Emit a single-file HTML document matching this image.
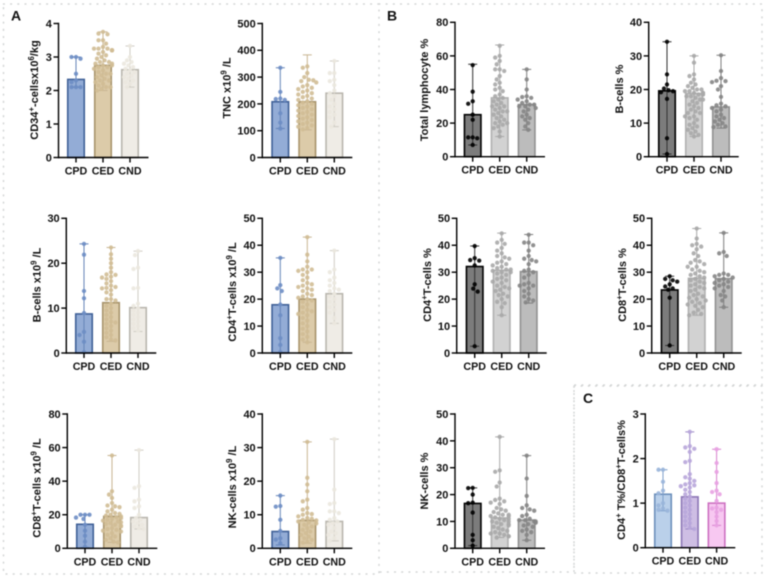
<!DOCTYPE html>
<html lang="en">
<head>
<meta charset="utf-8">
<title>Cell subset bar charts</title>
<style>
  html, body { margin: 0; padding: 0; background: #ffffff; }
  body { width: 767px; height: 579px; overflow: hidden; }
  svg { display: block; filter: blur(0.4px); }
  text { font-family: "Liberation Sans", Arial, sans-serif; font-weight: bold; fill: #111111; }
</style>
</head>
<body>
<svg id="figure" width="767" height="579" viewBox="0 0 767 579" xmlns="http://www.w3.org/2000/svg">
  <g fill="none" stroke="#d3d5d5" stroke-width="1.5" stroke-dasharray="0.8 6.4" stroke-linecap="round">
    <path d="M3.5 4H379V574H3.5Z"/>
    <path d="M379 4H762V385H574V572H379"/>
    <path d="M574 386H762V573H574Z"/>
  </g>
  <text x="11" y="20.5" font-size="14">A</text>
  <text x="387" y="20.5" font-size="14">B</text>
  <text x="583" y="403" font-size="14">C</text>
  <g id="charts"></g>
</svg>
<script>
const categories = ['CPD', 'CED', 'CND'];

const cd34Ticks = [0, 1, 2, 3, 4];
const cd34Means = [2.33, 2.75, 2.62];
const cd34Lows = [2.1, 2.0, 2.1];
const cd34Highs = [3.0, 3.75, 3.33];
const cd34Cpd = [3.0, 3.0, 2.95, 2.5, 2.3, 2.25, 2.1, 2.1, 2.1];
const cd34Ced = [3.75, 3.7, 3.68, 3.5, 3.5, 3.4, 3.3, 3.25, 3.25, 3.25, 3.2, 3.2, 3.2, 3.2, 3.15, 3.1, 3.05, 3.0, 2.95, 2.9, 2.85, 2.85, 2.8, 2.8, 2.75, 2.75, 2.7, 2.7, 2.65, 2.6, 2.55, 2.5, 2.5, 2.45, 2.4, 2.35, 2.3, 2.3, 2.25, 2.2, 2.15, 2.1, 2.1, 2.05, 2.0];
const cd34Cnd = [3.33, 3.0, 2.9, 2.85, 2.8, 2.75, 2.7, 2.65, 2.6, 2.55, 2.5, 2.45, 2.4, 2.35, 2.3, 2.25, 2.2, 2.1];

const tncTicks = [0, 100, 200, 300, 400, 500];
const tncMeans = [208, 208, 240];
const tncLows = [108, 103, 115];
const tncHighs = [335, 383, 360];
const tncCpd = [335, 245, 220, 218, 215, 165, 130, 108];
const tncCed = [340, 335, 315, 300, 290, 288, 285, 280, 270, 265, 260, 255, 250, 245, 240, 235, 230, 225, 220, 215, 210, 205, 200, 195, 190, 185, 180, 175, 170, 165, 160, 155, 150, 145, 140, 135, 130, 125, 120, 115, 110, 105];
const tncCnd = [360, 315, 315, 290, 285, 270, 250, 240, 230, 215, 200, 190, 180, 170, 160, 150, 130, 115];

const lymphTicks = [0, 20, 40, 60, 80];
const lymphMeans = [25, 35, 31];
const lymphLows = [7, 12, 16];
const lymphHighs = [55, 66.5, 52];
const lymphCpd = [54.5, 38.7, 33, 31.5, 25, 22, 11.5, 11.5, 11, 7];
const lymphCed = [66, 60, 59, 57, 55, 52, 52, 51, 48, 46, 44, 43, 41, 40, 39, 37, 36, 35, 34, 33, 32, 31, 30, 30, 29, 28, 27, 27, 26, 25, 24, 23, 22, 21, 20, 20, 19, 18, 17, 15, 12];
const lymphCnd = [52, 46, 40, 36, 35.5, 35, 34, 33, 32, 31, 31, 30, 30, 29, 28, 27, 25, 24, 23, 22, 20, 18, 16];

const bPctTicks = [0, 10, 20, 30, 40];
const bPctMeans = [19.6, 18.8, 14.8];
const bPctLows = [0.8, 6, 8.5];
const bPctHighs = [34.2, 30, 30.2];
const bPctCpd = [34.2, 24.5, 21.5, 20.3, 19.8, 19.5, 19.2, 17.2, 5.5, 0.8];
const bPctCed = [30, 28, 24.5, 24, 23, 22, 21.5, 21, 20.5, 20, 20, 19.5, 19.5, 19, 19, 19, 18.5, 18.5, 18.5, 18, 18, 17.5, 17, 17, 16.5, 16, 15.5, 15, 14.5, 14, 13.5, 13, 13, 12, 12, 11.5, 11, 10, 9.5, 9, 8.5, 8, 7.5, 7, 6.5, 6];
const bPctCnd = [30.2, 25.5, 23.4, 22.6, 22.5, 22.2, 21, 20, 17.8, 15.8, 15.3, 15, 14.5, 14, 13.5, 12.5, 12, 11.5, 11, 10.5, 10, 9.5, 9, 8.8];

const bAbsTicks = [0, 10, 20, 30];
const bAbsMeans = [8.7, 11.2, 10.1];
const bAbsLows = [0, 2.6, 4.8];
const bAbsHighs = [24.3, 23.5, 22.7];
const bAbsCpd = [24.3, 21.9, 13.8, 12.2, 8.9, 4.7, 4, 2.5, 0.2];
const bAbsCed = [23.5, 22, 21, 20, 19, 18, 17.5, 17.4, 17, 16.8, 16.5, 16, 15.5, 15, 14.7, 14.5, 14.4, 14, 13.5, 13, 12, 12, 11.7, 11, 10.5, 10, 9.5, 9, 8.5, 8, 7.5, 7, 6.8, 6.5, 6, 5.5, 5, 4.5, 4, 3.5, 3, 2.8];
const bAbsCnd = [22.7, 21.8, 19, 18.7, 14.5, 14.4, 11, 10.5, 10, 9.5, 9, 8.5, 8, 7.5, 7, 6.5, 6, 5.5, 5];

const cd4AbsTicks = [0, 10, 20, 30, 40, 50];
const cd4AbsMeans = [17.9, 20, 22];
const cd4AbsLows = [0, 4, 11];
const cd4AbsHighs = [35.3, 43, 38];
const cd4AbsCpd = [35.3, 25.2, 24, 23, 18, 14, 5.5, 3, 0.3];
const cd4AbsCed = [43, 36.5, 34, 32, 31, 31, 30.5, 30, 29, 28, 27, 26, 25.5, 25, 24.5, 24, 23.5, 23, 22, 21.5, 21, 20.5, 20, 19.5, 19, 18, 17, 16, 15.5, 15, 14.5, 14, 13, 12, 11, 10, 9, 8, 7, 6, 5, 4];
const cd4AbsCnd = [38, 31, 30, 28, 27, 26, 25, 24, 23.5, 23, 22, 21, 20, 19, 18, 17, 16, 15, 13, 11];

const cd4PctTicks = [0, 10, 20, 30, 40, 50];
const cd4PctMeans = [32.1, 30.7, 30.2];
const cd4PctLows = [2.5, 14, 18.5];
const cd4PctHighs = [39.7, 44.5, 44];
const cd4PctCpd = [39.7, 35.2, 34.5, 34.3, 32.5, 25.5, 23.9, 22.8, 2.5];
const cd4PctCed = [44.4, 42, 41, 40.5, 39, 38, 37, 36, 35.5, 35, 34, 33.5, 33, 32.5, 32, 31.5, 31, 31, 30.5, 30, 30, 29.5, 29, 28, 27.5, 27, 26.5, 26, 25, 24.5, 24, 23.5, 23, 22, 21.5, 21, 20, 19, 18.5, 17, 14];
const cd4PctCnd = [43.9, 41, 41, 40, 38, 36, 35, 34.5, 34, 33, 31, 30.5, 30, 29, 28, 26, 25.5, 25, 25, 24, 23, 22, 21, 20, 19.5, 18.8];

const cd8PctTicks = [0, 10, 20, 30, 40, 50];
const cd8PctMeans = [23.4, 27.7, 27.6];
const cd8PctLows = [2.8, 14, 17];
const cd8PctHighs = [28.5, 46.2, 44.6];
const cd8PctCpd = [28.5, 27.5, 27, 26.5, 25.5, 24.7, 24, 23.5, 20.5, 2.8];
const cd8PctCed = [46.2, 42.5, 40.5, 40, 39.5, 38.5, 37, 36, 34.5, 34, 33.5, 33, 32, 32, 31, 30.5, 30, 29.5, 29, 28.5, 28, 27.5, 27, 26.5, 26, 25.5, 25, 24.5, 24, 23.5, 23, 22, 21.5, 21, 20.5, 20, 19.5, 19, 18.5, 18, 17.5, 17, 16, 15, 14.5, 14];
const cd8PctCnd = [44.6, 37.5, 37, 36, 29.5, 29, 29, 28.5, 28, 27.5, 27, 26.5, 26, 25.5, 25, 24.5, 24, 23, 21.5, 21, 19.5, 17];

const cd8AbsTicks = [0, 20, 40, 60, 80];
const cd8AbsMeans = [14.3, 19, 18.3];
const cd8AbsLows = [0.5, 3.5, 11.5];
const cd8AbsHighs = [20, 55.3, 58.5];
const cd8AbsCpd = [20, 20, 20, 18.3, 17.5, 14, 10.5, 7.5, 4, 1];
const cd8AbsCed = [55.3, 34, 32, 30, 27, 25.5, 25, 24.5, 23, 22, 21, 20.5, 20, 19.5, 19, 18.5, 18, 17.5, 17, 16.5, 16, 15.5, 15, 14.5, 14, 13.5, 13, 12, 11.5, 11, 10.5, 10, 9, 8, 7, 6, 5, 4, 3.5];
const cd8AbsCnd = [58.5, 37, 36, 29, 28, 25, 24, 20, 18, 17, 16, 15, 14, 13, 12, 11.5];

const nkAbsTicks = [0, 10, 20, 30, 40];
const nkAbsMeans = [5, 8.3, 8];
const nkAbsLows = [1, 1.5, 2.2];
const nkAbsHighs = [15.7, 31.7, 32.5];
const nkAbsCpd = [15.7, 12.6, 12.4, 8.5, 5.2, 3, 2.6, 1.5];
const nkAbsCed = [31.7, 21, 19, 17, 14.5, 14, 12, 11.5, 10.5, 10.2, 10, 9.5, 9, 8.8, 8.5, 8.3, 8, 7.7, 7.4, 7, 6.5, 6, 5.5, 5, 4.5, 4, 3.5, 3, 2.5, 2, 1.7];
const nkAbsCnd = [32.5, 17.5, 13.5, 13.2, 11, 11, 10.5, 9, 8.5, 8, 7.5, 7, 6, 5, 4.5, 4, 3, 2.2];

const nkPctTicks = [0, 10, 20, 30, 40, 50];
const nkPctMeans = [16.7, 11.3, 10.5];
const nkPctLows = [1, 4, 3];
const nkPctHighs = [22.5, 41.5, 34.5];
const nkPctCpd = [22.5, 22.4, 20, 17, 16.8, 13.3, 5, 3, 1];
const nkPctCed = [41.5, 29, 28.5, 24.5, 23, 18.5, 18, 17.5, 17, 16.5, 15, 14.5, 14, 13.5, 13, 12.5, 12.5, 12, 12, 11.5, 11, 11, 10.5, 10, 10, 9.5, 9, 9, 8.5, 8, 7.5, 7, 6.5, 6, 5.5, 5.5, 5, 4.5, 4.5, 4];
const nkPctCnd = [34.5, 26, 19.5, 16, 15, 14.5, 14, 12.5, 12, 11, 10.5, 10.5, 10, 10, 9.5, 9, 8.5, 8, 7, 6.5, 6, 5, 3];

const ratioTicks = [0, 1, 2, 3];
const ratioMeans = [1.2, 1.14, 1.0];
const ratioLows = [0.83, 0.42, 0.5];
const ratioHighs = [1.75, 2.6, 2.21];
const ratioCpd = [1.75, 1.75, 1.48, 1.28, 1.22, 1.0, 0.95, 0.88, 0.85, 0.83];
const ratioCed = [2.6, 2.28, 2.25, 2.22, 2.15, 1.95, 1.92, 1.65, 1.58, 1.55, 1.5, 1.45, 1.42, 1.4, 1.38, 1.35, 1.3, 1.25, 1.2, 1.15, 1.1, 1.05, 1.0, 0.95, 0.9, 0.85, 0.8, 0.75, 0.7, 0.65, 0.6, 0.55, 0.5, 0.45, 0.42];
const ratioCnd = [2.21, 1.9, 1.7, 1.45, 1.28, 1.25, 1.2, 1.05, 0.9, 0.88, 0.85, 0.8, 0.7, 0.6, 0.5];

/* Colour themes: fill, outline, whisker, point for CPD / CED / CND */
const themeA = [
  { fill: '#93acd6', line: '#3f6097', whisk: '#6484b8', dot: '#6d8dc4' },
  { fill: '#dccba9', line: '#a8946c', whisk: '#c8b592', dot: '#d0bd95' },
  { fill: '#efece6', line: '#b9b6ae', whisk: '#cfccc4', dot: '#ebe8df' }
];
const themeB = [
  { fill: '#7c7c7c', line: '#000000', whisk: '#303030', dot: '#000000' },
  { fill: '#d2d2d2', line: '#b0b0b0', whisk: '#a8a8a8', dot: '#a8a8a8' },
  { fill: '#bcbcbc', line: '#919191', whisk: '#7e7e7e', dot: '#858585' }
];
const themeC = [
  { fill: '#bad0ea', line: '#6c8fbb', whisk: '#7d9fcb', dot: '#9ab5da' },
  { fill: '#cebee4', line: '#8b75b5', whisk: '#9a86c6', dot: '#b8a6da' },
  { fill: '#f7c8f1', line: '#cd70c1', whisk: '#d77fcd', dot: '#e8a2e2' }
];

const panels = [
  { id: 'cd34-count', theme: themeA, ticks: cd34Ticks, means: cd34Means, lows: cd34Lows, highs: cd34Highs, groups: [cd34Cpd, cd34Ced, cd34Cnd],
    axisX: 58.5, top: 23.5, bottom: 157.5, first: 76, step: 27, titleX: 34, titleY: 90,
    title: [['CD34', 0], ['+', 1], ['-cellsx10', 0], ['6', 1], ['/kg', 0]] },
  { id: 'tnc', theme: themeA, ticks: tncTicks, means: tncMeans, lows: tncLows, highs: tncHighs, groups: [tncCpd, tncCed, tncCnd],
    axisX: 262.3, top: 23.5, bottom: 157.5, first: 280.3, step: 27, titleX: 226.7, titleY: 88,
    title: [['TNC x10', 0], ['9', 1], [' /L', 0]] },
  { id: 'total-lymphocyte', theme: themeB, ticks: lymphTicks, means: lymphMeans, lows: lymphLows, highs: lymphHighs, groups: [lymphCpd, lymphCed, lymphCnd],
    axisX: 455, top: 22.3, bottom: 156.7, first: 472.7, step: 27, titleX: 424, titleY: 90,
    title: [['Total lymphocyte %', 0]] },
  { id: 'b-cells-pct', theme: themeB, ticks: bPctTicks, means: bPctMeans, lows: bPctLows, highs: bPctHighs, groups: [bPctCpd, bPctCed, bPctCnd],
    axisX: 648.7, top: 22.3, bottom: 156.7, first: 667, step: 27, titleX: 619, titleY: 89,
    title: [['B-cells %', 0]] },
  { id: 'b-cells-abs', theme: themeA, ticks: bAbsTicks, means: bAbsMeans, lows: bAbsLows, highs: bAbsHighs, groups: [bAbsCpd, bAbsCed, bAbsCnd],
    axisX: 66.3, top: 218.3, bottom: 353, first: 84, step: 27, titleX: 36.7, titleY: 285,
    title: [['B-cells x10', 0], ['9', 1], [' /L', 0]] },
  { id: 'cd4-abs', theme: themeA, ticks: cd4AbsTicks, means: cd4AbsMeans, lows: cd4AbsLows, highs: cd4AbsHighs, groups: [cd4AbsCpd, cd4AbsCed, cd4AbsCnd],
    axisX: 262.3, top: 218.3, bottom: 353, first: 280.3, step: 27, titleX: 232, titleY: 292,
    title: [['CD4', 0], ['+', 1], ['T-cells x10', 0], ['9', 1], [' /L', 0]] },
  { id: 'cd4-pct', theme: themeB, ticks: cd4PctTicks, means: cd4PctMeans, lows: cd4PctLows, highs: cd4PctHighs, groups: [cd4PctCpd, cd4PctCed, cd4PctCnd],
    axisX: 456.7, top: 218.3, bottom: 353, first: 474.7, step: 27, titleX: 427, titleY: 285,
    title: [['CD4', 0], ['+', 1], ['T-cells %', 0]] },
  { id: 'cd8-pct', theme: themeB, ticks: cd8PctTicks, means: cd8PctMeans, lows: cd8PctLows, highs: cd8PctHighs, groups: [cd8PctCpd, cd8PctCed, cd8PctCnd],
    axisX: 651.7, top: 218.3, bottom: 353, first: 669.7, step: 27, titleX: 622, titleY: 285,
    title: [['CD8', 0], ['+', 1], ['T-cells %', 0]] },
  { id: 'cd8-abs', theme: themeA, ticks: cd8AbsTicks, means: cd8AbsMeans, lows: cd8AbsLows, highs: cd8AbsHighs, groups: [cd8AbsCpd, cd8AbsCed, cd8AbsCnd],
    axisX: 67.3, top: 414, bottom: 548.3, first: 85, step: 27, titleX: 36.7, titleY: 488,
    title: [['CD8', 0], ['+', 1], ['T-cells x10', 0], ['9', 1], [' /L', 0]] },
  { id: 'nk-abs', theme: themeA, ticks: nkAbsTicks, means: nkAbsMeans, lows: nkAbsLows, highs: nkAbsHighs, groups: [nkAbsCpd, nkAbsCed, nkAbsCnd],
    axisX: 262.3, top: 414, bottom: 548.3, first: 280.3, step: 27, titleX: 232, titleY: 487,
    title: [['NK-cells x10', 0], ['9', 1], [' /L', 0]] },
  { id: 'nk-pct', theme: themeB, ticks: nkPctTicks, means: nkPctMeans, lows: nkPctLows, highs: nkPctHighs, groups: [nkPctCpd, nkPctCed, nkPctCnd],
    axisX: 455, top: 414, bottom: 548.3, first: 472.7, step: 27, titleX: 424, titleY: 481,
    title: [['NK-cells %', 0]] },
  { id: 'cd4-cd8-ratio', theme: themeC, ticks: ratioTicks, means: ratioMeans, lows: ratioLows, highs: ratioHighs, groups: [ratioCpd, ratioCed, ratioCnd],
    axisX: 645.3, top: 414, bottom: 547.7, first: 663, step: 26.8, titleX: 621, titleY: 480,
    title: [['CD4', 0], ['+', 1], [' T%/CD8', 0], ['+', 1], ['T-cells%', 0]] }
];

const NS = 'http://www.w3.org/2000/svg';
const BAR_WIDTH = 16.5;
const DOT_RADIUS = 2.15;

function make(tag, attrs, parent) {
  const el = document.createElementNS(NS, tag);
  for (const k in attrs) el.setAttribute(k, attrs[k]);
  parent.appendChild(el);
  return el;
}

function yAxisFn(p) {
  const max = p.ticks[p.ticks.length - 1];
  return function (v) { return p.bottom - (v / max) * (p.bottom - p.top); };
}

function xAxisFn(p) {
  return function (i) { return p.first + i * p.step; };
}

/* Swarm layout: each point moves sideways only as far as needed to clear earlier points. */
function swarm(values, yFn) {
  const placed = [];
  const sorted = values.slice().sort(function (a, b) { return b - a; });
  sorted.forEach(function (v) {
    const y = yFn(v);
    const gap = 4.4;
    let off = 0;
    for (let n = 0; n < 13; n++) {
      const candidate = (n % 2 === 0 ? 1 : -1) * Math.ceil(n / 2) * 1.5;
      const clear = placed.every(function (q) {
        const dx = q.off - candidate;
        const dy = q.y - y;
        return dx * dx + dy * dy >= gap * gap;
      });
      if (clear) { off = candidate; break; }
      off = candidate;
    }
    placed.push({ off: off, y: y });
  });
  return placed;
}

const root = document.getElementById('charts');

panels.forEach(function (p) {
  const y = yAxisFn(p);
  const x = xAxisFn(p);
  const g = make('g', {}, root);
  
  

  categories.forEach(function (cat, i) {
    const c = p.theme[i];
    const cx = x(i);
    const key = cat.toLowerCase();

    const bar = make('rect', { x: cx - BAR_WIDTH / 2, y: y(p.means[i]), width: BAR_WIDTH, height: p.bottom - y(p.means[i]), fill: c.fill, stroke: c.line, 'stroke-width': 1.6 }, g);
    
    

    const whisker = make('path', {
      d: 'M' + cx + ' ' + y(p.lows[i]) + 'V' + y(p.highs[i]) +
         'M' + (cx - 4.5) + ' ' + y(p.highs[i]) + 'h9' +
         'M' + (cx - 4.5) + ' ' + y(p.lows[i]) + 'h9',
      fill: 'none', stroke: c.whisk, 'stroke-width': 1
    }, g);
    
    

    swarm(p.groups[i], y).forEach(function (pt) {
      const dot = make('circle', { cx: cx + pt.off, cy: pt.y, r: DOT_RADIUS, fill: c.dot, 'fill-opacity': 0.9 }, g);
      
      
    });
  });

  const axes = make('g', { stroke: '#000', 'stroke-width': 1.4, fill: 'none' }, g);
  
  

  const yLine = make('line', { x1: p.axisX, x2: p.axisX, y1: p.top - 0.7, y2: p.bottom + 0.7 }, axes);
  
  

  const xLine = make('line', { x1: p.axisX, x2: p.axisX + 90, y1: p.bottom, y2: p.bottom }, axes);
  
  

  p.ticks.forEach(function (t) {
    const tick = make('line', { x1: p.axisX - 5, x2: p.axisX, y1: y(t), y2: y(t) }, axes);
    
    

    const label = make('text', { x: p.axisX - 6.6, y: y(t) + 3.9, 'text-anchor': 'end', 'font-size': 11 }, g);
    
    
    label.textContent = t;
  });

  categories.forEach(function (cat, i) {
    const tick = make('line', { x1: x(i), x2: x(i), y1: p.bottom, y2: p.bottom + 5 }, axes);
    
    

    const label = make('text', { x: x(i), y: p.bottom + 17, 'text-anchor': 'middle', 'font-size': 10.7 }, g);
    
    
    label.textContent = cat;
  });

  const bx = p.titleX + 3.8;
  const title = make('text', { x: bx, y: p.titleY, 'text-anchor': 'middle', 'font-size': 11, transform: 'rotate(-90 ' + bx + ' ' + p.titleY + ')' }, g);
  
  
  let raised = false;
  p.title.forEach(function (part) {
    const span = make('tspan', {}, title);
    span.style.whiteSpace = 'pre';
    if (part[1]) {
      span.setAttribute('dy', '-3.8');
      span.setAttribute('font-size', '7.8');
      raised = true;
    } else if (raised) {
      span.setAttribute('dy', '3.8');
      raised = false;
    }
    span.textContent = part[0];
  });
});
</script>
</body>
</html>
